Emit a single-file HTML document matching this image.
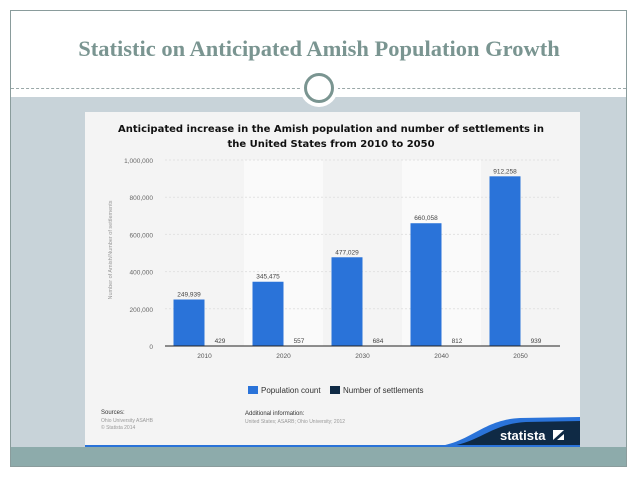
<!DOCTYPE html>
<html><head><meta charset="utf-8"><style>
body{margin:0;width:638px;height:479px;background:#fff;overflow:hidden;position:relative;font-family:"Liberation Sans",sans-serif}
.frame{position:absolute;left:10px;top:10px;width:617px;height:457px;border:1px solid #8a9c9c;box-sizing:border-box}
</style></head><body>
<div class="frame"></div>
<div style="position:absolute;left:0;width:638px;top:36px;text-align:center;font-family:'Liberation Serif',serif;font-weight:bold;font-size:22.5px;color:#7a9591">Statistic on Anticipated Amish Population Growth</div>
<div style="position:absolute;left:11px;width:615px;top:88px;border-top:1px dashed #9aa8a8"></div>
<div style="position:absolute;left:11px;width:615px;top:97px;height:350px;background:#c8d3d9"></div>
<div style="position:absolute;left:11px;width:615px;top:447px;height:19px;background:#8dabab"></div>
<div style="position:absolute;left:300px;top:69px;width:38px;height:38px;border-radius:50%;background:#fff"></div>
<div style="position:absolute;left:304px;top:73px;width:24px;height:24px;border-radius:50%;border:3px solid #7a9591;background:#fff"></div>
<svg id="c" style="position:absolute;left:0;top:0" width="638" height="479">
<rect x="85" y="112" width="495" height="335" fill="#f4f4f4"/>
<text x="331" y="132" text-anchor="middle" font-family="DejaVu Sans,sans-serif" font-weight="bold" font-size="10" fill="#111">Anticipated increase in the Amish population and number of settlements in</text>
<text x="331" y="147" text-anchor="middle" font-family="DejaVu Sans,sans-serif" font-weight="bold" font-size="10" fill="#111">the United States from 2010 to 2050</text>
<text transform="translate(112,250) rotate(-90)" text-anchor="middle" font-size="5.5" fill="#999">Number of Amish/Number of settlements</text>
<g id="plot"></g>
<rect x="248" y="386" width="10" height="8" fill="#2a73d9"/>
<text x="261" y="393" font-size="8" fill="#333">Population count</text>
<rect x="330" y="386" width="10" height="8" fill="#0f2a45"/>
<text x="343" y="393" font-size="8" fill="#333">Number of settlements</text>
<text x="101" y="414" font-size="6" fill="#333">Sources:</text>
<text x="101" y="422" font-size="5" fill="#999">Ohio University ASAHB</text>
<text x="101" y="429" font-size="5" fill="#999">© Statista 2014</text>
<text x="245" y="415" font-size="6" fill="#333">Additional information:</text>
<text x="245" y="423" font-size="5" fill="#999">United States; ASARB; Ohio University; 2012</text>
<path d="M430 447 C470 445 480 420 520 418 L580 417 L580 447 Z" fill="#2a73d9"/>
<path d="M440 447 C478 446 488 424 526 422 L580 421 L580 447 Z" fill="#0f2a45"/>
<rect x="85" y="445" width="495" height="2" fill="#2a73d9"/>
<text x="500" y="440" font-size="13" font-weight="bold" fill="#fff">statista</text>
<rect x="553" y="430" width="11" height="10" fill="#fff"/>
<path d="M553 440 L564 430 L564 434 L557 440Z" fill="#0f2a45"/>
</svg>
<script>
const categories=["2010","2020","2030","2040","2050"];
const population=[249939,345475,477029,660058,912258];
const settlements=[429,557,684,812,939];
const yTicks=[0,200000,400000,600000,800000,1000000];
const x0=165,band=79,yBase=346,yTop=160,yMax=1000000;
function y(v){return yBase-(v/yMax)*(yBase-yTop);}
function xc(i){return x0+band*i+band/2;}
const g=document.getElementById('plot');const NS='http://www.w3.org/2000/svg';
function el(t,a){const e=document.createElementNS(NS,t);for(const k in a)e.setAttribute(k,a[k]);g.appendChild(e);return e;}
categories.forEach((c,i)=>{if(i%2==1){const r=el('rect',{x:x0+band*i,y:yTop,width:band,height:yBase-yTop,fill:'#fafafa'});

}});
yTicks.forEach(t=>{const l=el('line',{x1:x0,x2:560,y1:y(t),y2:y(t),stroke:'#e2e2e2','stroke-dasharray':'2,2'});


const tx=el('text',{x:153,y:y(t)+3,'text-anchor':'end','font-size':6.5,fill:'#666'});tx.textContent=t.toLocaleString('en-US');

});
categories.forEach((c,i)=>{const cx=xc(i);
const b=el('rect',{x:cx-31,y:y(population[i]),width:31,height:yBase-y(population[i]),fill:'#2a73d9'});


const s=el('rect',{x:cx,y:y(settlements[i]),width:31,height:yBase-y(settlements[i]),fill:'#0f2a45'});


const pl=el('text',{x:cx-15.5,y:y(population[i])-3,'text-anchor':'middle','font-size':6.5,fill:'#444'});pl.textContent=population[i].toLocaleString('en-US');


const sl=el('text',{x:cx+15.5,y:yBase-3,'text-anchor':'middle','font-size':6.5,fill:'#444'});sl.textContent=settlements[i];


const xl=el('text',{x:cx,y:yBase+12,'text-anchor':'middle','font-size':6.5,fill:'#555'});xl.textContent=c;

});
const ax=el('line',{x1:x0,x2:560,y1:yBase,y2:yBase,stroke:'#222','stroke-width':1});


</script>
</body></html>
